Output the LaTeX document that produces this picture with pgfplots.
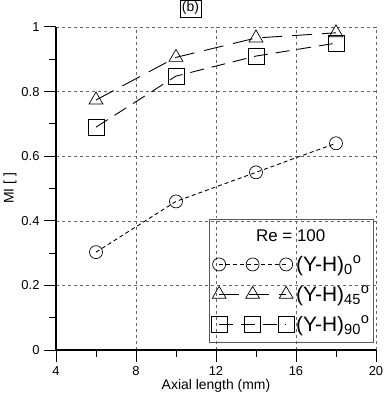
\documentclass[border=0pt]{standalone}
\usepackage{pgfplots}
\pgfplotsset{compat=1.18}
\usepackage{fontspec}
\setmainfont{Liberation Sans}
\begin{document}
\begin{tikzpicture}
\begin{axis}[
  scale only axis, width=320bp, height=323bp,
  xmin=4, xmax=20, ymin=0, ymax=1,
  xtick={4,8,12,16,20}, ytick={0,0.2,0.4,0.6,0.8,1},
  minor xtick={6,10,14,18}, minor ytick={0.1,0.3,0.5,0.7,0.9},
  axis lines*=left,
  axis line style={line width=1.2pt},
  tick align=outside,
  major tick length=12bp, minor tick length=7bp,
  tick style={line width=1pt, black},
  grid=major,
  major grid style={dashed, gray!80!black, line width=0.5pt},
  /pgf/number format/assume math mode=true,
  tick label style={font=\fontsize{13}{15}\selectfont},
  xticklabel style={yshift=-1bp},
  yticklabel style={xshift=-1bp},
  xlabel={Axial length (mm)}, ylabel={MI [ ]},
  label style={font=\fontsize{14}{16}\selectfont},
  xlabel style={yshift=3bp},
  ylabel style={yshift=-2bp},
  title={(b)},
  title style={draw, inner sep=2pt, font=\fontsize{14}{16}\selectfont, at={(0.42,1)}, anchor=south, yshift=4bp},
  legend style={at={(1,0)}, anchor=south east, xshift=-2bp, yshift=7bp, fill=none, draw=gray!70!black, line width=0.8pt, font=\fontsize{21}{23}\selectfont, row sep=9bp, inner xsep=2bp, inner ysep=8bp},
  legend cell align=left,
  legend image code/.code={\draw[#1] plot coordinates {(0bp,0bp) (33.5bp,0bp) (67bp,0bp)};},
  every axis plot/.append style={line width=0.9pt, black, mark options={solid, line width=0.7pt, fill=none}},
]
\addlegendimage{empty legend}
\addlegendentry{\hspace{-40bp}\fontsize{17}{19}\selectfont Re = 100}
\addplot[dash pattern=on 4pt off 3pt, mark=o, mark size=6.5bp] coordinates {(6,0.303) (10,0.46) (14,0.55) (18,0.64)};
\addlegendentry{(Y-H)\textsubscript{0}\textsuperscript{o}}
\addplot[dash pattern=on 20pt off 10pt, mark=triangle, mark size=8bp] coordinates {(6,0.774) (10,0.906) (14,0.966) (18,0.982)};
\addlegendentry{(Y-H)\textsubscript{45}\textsuperscript{o}}
\addplot[dash pattern=on 14pt off 8pt, mark=square, mark size=8bp] coordinates {(6,0.69) (10,0.848) (14,0.91) (18,0.95)};
\addlegendentry{(Y-H)\textsubscript{90}\textsuperscript{o}}
\end{axis}
\pgfresetboundingbox
\path ([xshift=-56bp,yshift=-51bp]current axis.south west) rectangle ([xshift=8bp,yshift=27bp]current axis.north east);
\end{tikzpicture}
\end{document}
